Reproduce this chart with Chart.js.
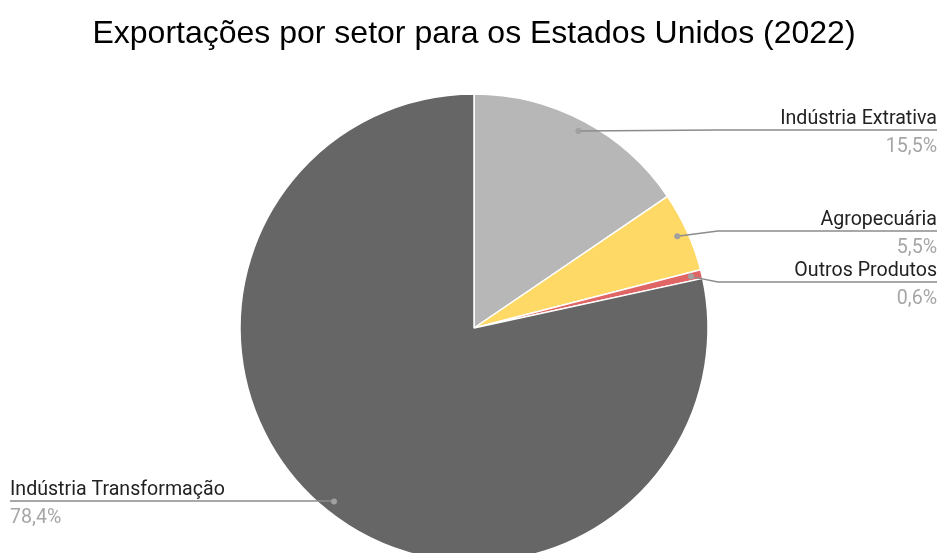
<!DOCTYPE html>
<html>
<head>
<meta charset="utf-8">
<script src="https://cdn.jsdelivr.net/npm/chart.js@4"></script>
<style>
  html, body { margin: 0; padding: 0; background: #fff; overflow: hidden; }
  #wrap { width: 941px; height: 660px; position: relative; }
</style>
</head>
<body>
<div id="wrap"><canvas id="c" width="941" height="660"></canvas></div>
<script>
const categories = ['Indústria Extrativa', 'Agropecuária', 'Outros Produtos', 'Indústria Transformação'];
const values = [15.5, 5.5, 0.6, 78.4];
const percentLabels = ['15,5%', '5,5%', '0,6%', '78,4%'];
const sliceColors = ['#b7b7b7', '#ffd966', '#e06666', '#666666'];

// layout of the callout labels (not data)
const calloutLayout = {
  lineY: [130, 231, 282, 501],
  rightEdge: 937,
  leftEdge: 10,
  elbowRight: 718
};

const calloutPlugin = {
  id: 'callouts',
  afterDatasetsDraw(chart) {
    const ctx = chart.ctx;
    const meta = chart.getDatasetMeta(0);
    meta.data.forEach((arc, i) => {
      const p = arc.getProps(['x', 'y', 'startAngle', 'endAngle', 'outerRadius'], true);
      const mid = (p.startAngle + p.endAngle) / 2;
      const r = p.outerRadius * 0.953;
      const dx = p.x + Math.cos(mid) * r;
      const dy = p.y + Math.sin(mid) * r;
      const ly = calloutLayout.lineY[i];
      const right = Math.cos(mid) >= 0;
      ctx.save();
      ctx.strokeStyle = '#8c8c8c';
      ctx.lineWidth = 1.5;
      ctx.beginPath();
      ctx.moveTo(dx, dy);
      if (right) {
        const ex = Math.max(calloutLayout.elbowRight, dx);
        ctx.lineTo(ex, ly);
        ctx.lineTo(calloutLayout.rightEdge, ly);
      } else {
        ctx.lineTo(dx, ly);
        ctx.lineTo(calloutLayout.leftEdge, ly);
      }
      ctx.stroke();
      ctx.fillStyle = '#a0a0a0';
      ctx.beginPath();
      ctx.arc(dx, dy, 3, 0, Math.PI * 2);
      ctx.fill();
      ctx.font = '19.6px Roboto, "Liberation Sans", Arial, sans-serif';
      ctx.textBaseline = 'alphabetic';
      const tx = right ? calloutLayout.rightEdge : calloutLayout.leftEdge;
      ctx.textAlign = right ? 'right' : 'left';
      ctx.fillStyle = '#222222';
      ctx.fillText(categories[i], tx, ly - 6);
      ctx.fillStyle = '#a6a6a6';
      ctx.fillText(percentLabels[i], tx, ly + 22);
      ctx.restore();
    });
  }
};

new Chart(document.getElementById('c'), {
  type: 'pie',
  data: {
    labels: categories,
    datasets: [{
      data: values,
      backgroundColor: sliceColors,
      borderColor: '#ffffff',
      borderWidth: 1.5,
      radius: 234
    }]
  },
  options: {
    responsive: false,
    animation: false,
    layout: { padding: { left: 7, right: 0, top: 0, bottom: 80.4 } },
    plugins: {
      legend: { display: false },
      tooltip: { enabled: false },
      title: {
        display: true,
        text: 'Exportações por setor para os Estados Unidos (2022)',
        color: '#000000',
        font: { family: '"Liberation Sans", Arial, sans-serif', size: 32, weight: 'normal', lineHeight: 1.2 },
        padding: { top: 15, bottom: 23 }
      }
    }
  },
  plugins: [calloutPlugin]
});
</script>
</body>
</html>
